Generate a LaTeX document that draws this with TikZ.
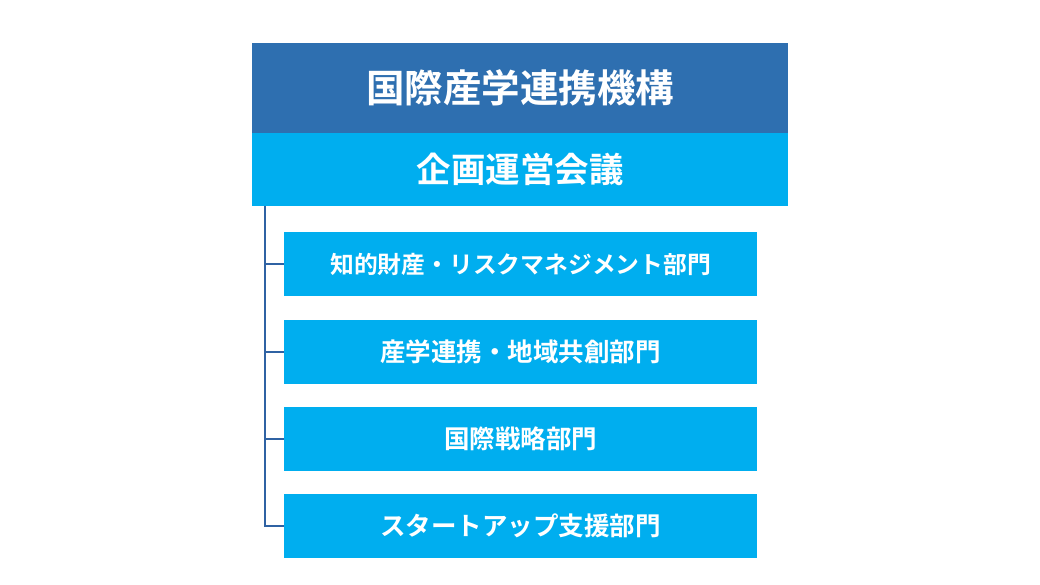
\documentclass[tikz,border=0pt]{standalone}
\usepackage{fontspec}
\setmainfont{Noto Sans CJK JP}[BoldFont={Noto Sans CJK JP Bold}]
\definecolor{topblue}{HTML}{2E6FB0}
\definecolor{lightblue}{HTML}{00AEEF}
\definecolor{linecol}{HTML}{2F62A3}
\begin{document}
\begin{tikzpicture}[x=1pt,y=-1pt,
  box/.style={fill=lightblue,draw=none,text=white,font=\bfseries\fontsize{25.5}{30}\selectfont,
    minimum width=473pt,minimum height=64pt,inner sep=0pt,anchor=north west},
  con/.style={draw=linecol,line width=2pt}]
\useasboundingbox (0,0) rectangle (1040,585);
\fill[white] (0,0) rectangle (1040,585);
\node[fill=topblue,text=white,minimum width=536pt,minimum height=90pt,inner sep=0pt,anchor=north west,font=\bfseries\fontsize{38.5}{44}\selectfont] (top) at (252,43) {国際産学連携機構};
\node[fill=lightblue,text=white,minimum width=536pt,minimum height=73pt,inner sep=0pt,anchor=north west,font=\bfseries\fontsize{34.5}{40}\selectfont] (council) at (252,133) {企画運営会議};
\node[box,font=\bfseries\fontsize{23.8}{28}\selectfont] (d1) at (284,232) {知的財産・リスクマネジメント部門};
\node[box] (d2) at (284,320) {産学連携・地域共創部門};
\node[box] (d3) at (284,407) {国際戦略部門};
\node[box] (d4) at (284,494) {スタートアップ支援部門};
\coordinate (s) at (265,206);
\draw[con] (s) |- (d4.west);
\draw[con] (s |- d1.west) -- (d1.west);
\draw[con] (s |- d2.west) -- (d2.west);
\draw[con] (s |- d3.west) -- (d3.west);
\end{tikzpicture}
\end{document}
